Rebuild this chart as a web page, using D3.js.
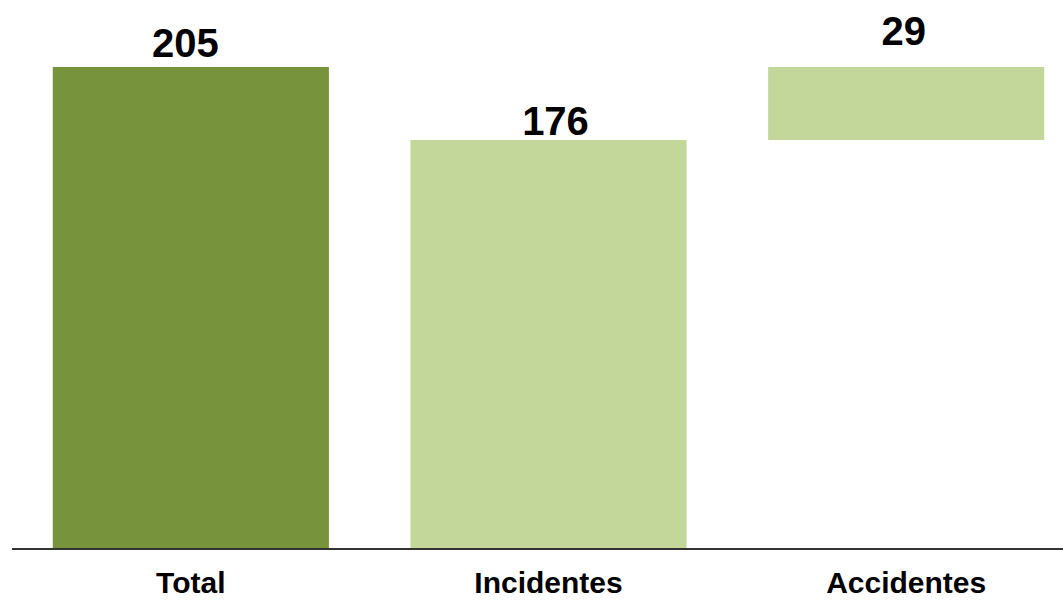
<!DOCTYPE html>
<html>
<head>
<meta charset="utf-8">
<script src="https://cdn.jsdelivr.net/npm/d3@7"></script>
<style>
  html, body { margin: 0; padding: 0; background: #ffffff; }
  svg { display: block; }
</style>
</head>
<body>
<svg id="chart" width="1063" height="600"></svg>
<script>
// ---- data ----
const categories = ["Total", "Incidentes", "Accidentes"];
const values = [205, 176, 29];
const bases = [0, 0, 176];
const kinds = ["total", "part", "part"];
const valueLabels = ["205", "176", "29"];

// ---- layout ----
const W = 1063, H = 600;
const svg = d3.select("#chart");

const x = d3.scaleBand()
  .domain(categories)
  .range([12, 1085])
  .paddingInner(0.228)
  .paddingOuter(0.114);

const y = d3.scaleLinear()
  .domain([14, 205])
  .range([548, 67])
  .clamp(true);

const color = d3.scaleOrdinal()
  .domain(["total", "part"])
  .range(["#77933C", "#C4D79B"]);

const rows = categories.map((c, i) => ({
  cat: c, value: values[i], base: bases[i], kind: kinds[i], label: valueLabels[i], i
}));

// bars
svg.append("g").selectAll("rect")
  .data(rows)
  .join("rect")
  .attr("x", d => x(d.cat))
  .attr("width", x.bandwidth())
  .attr("y", d => y(d.base + d.value))
  .attr("height", d => y(d.base) - y(d.base + d.value))
  .attr("fill", d => color(d.kind));

// value labels (placement nudges as in the original)
const labelGap = [10, 5, 22];
const labelShift = [-5.5, 7, -2.5];
svg.append("g").selectAll("text")
  .data(rows)
  .join("text")
  .attr("x", d => x(d.cat) + x.bandwidth() / 2 + labelShift[d.i])
  .attr("y", d => y(d.base + d.value) - labelGap[d.i])
  .attr("text-anchor", "middle")
  .attr("font-family", "Liberation Sans, Arial, sans-serif")
  .attr("font-weight", "bold")
  .attr("font-size", 40)
  .attr("fill", "#000")
  .text(d => d.label);

// x axis
const axis = d3.axisBottom(x).tickSize(0).tickPadding(0);
const gx = svg.append("g")
  .attr("transform", `translate(0,${y.range()[0]})`)
  .call(axis);
gx.select(".domain").remove();
gx.append("line")
  .attr("x1", 12).attr("x2", W)
  .attr("y1", 1).attr("y2", 1)
  .attr("stroke", "#333333")
  .attr("stroke-width", 2);
gx.selectAll(".tick text")
  .attr("y", 45)
  .attr("dy", 0)
  .attr("font-family", "Liberation Sans, Arial, sans-serif")
  .attr("font-weight", "bold")
  .attr("font-size", 30)
  .attr("fill", "#000");
</script>
</body>
</html>
